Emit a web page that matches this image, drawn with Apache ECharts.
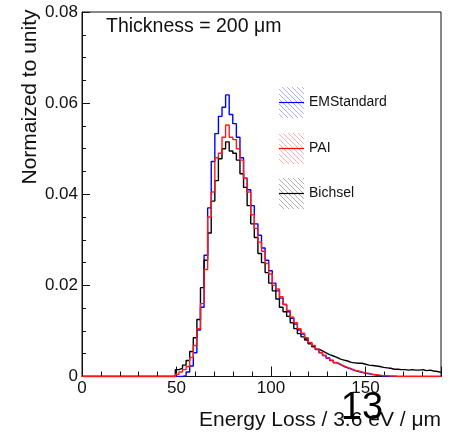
<!DOCTYPE html>
<html><head><meta charset="utf-8">
<script src="https://cdn.jsdelivr.net/npm/echarts@6/dist/echarts.min.js"></script>
<style>html,body{margin:0;padding:0;background:#fff}#c{width:450px;height:432px}</style>
</head><body><div id="c"></div>
<script>
// Histogram: 100 bins of width 1.9 from 0 to 190 (Energy Loss / 3.6 eV / um)
const binWidth = 1.9;
const xTickLabels = [0, 50, 100, 150];
const yTickLabels = [0, 0.02, 0.04, 0.06, 0.08];
const seriesNames = ['EMStandard', 'PAI', 'Bichsel'];

const emStandard = [
 0,0,0,0,0,0,0,0,0,0, 0,0,0,0,0,0,0,0,0,0, 0,0,0,0,0,0,0,0,
 0.0002,0.001,0.0023,0.0052,0.0102,0.0152,0.0266,0.037,0.0472,0.0533,
 0.0571,0.0591,0.0618,0.0575,0.0555,0.0525,0.048,0.0435,0.041,0.0375,
 0.0335,0.031,0.0282,0.0255,0.0232,0.0205,0.0188,0.0172,0.0158,0.0142,
 0.0128,0.0115,0.0102,0.0093,0.0083,0.0074,0.0066,0.0059,0.0052,0.0046,
 0.004,0.0035,0.003,0.0026,0.0022,0.0019,0.0016,0.0013,0.0011,0.0009,
 0.0007,0.0006,0.0004,0.0003,0.0002,0.0001,
 0,0,0,0,0,0,0,0,0,0,0,0,0,0,0,0
];
const pai = [
 0,0,0,0,0,0,0,0,0,0, 0,0,0,0,0,0,0,0,0,0, 0,0,0,0,0,0,
 0.0005,0.001,0.0015,0.0022,0.0042,0.0068,0.0105,0.016,0.0235,0.035,
 0.0405,0.048,0.049,0.0525,0.0552,0.0525,0.052,0.05,0.0475,0.0435,
 0.0405,0.0355,0.0325,0.0295,0.0275,0.0248,0.0225,0.02,0.0192,0.0175,
 0.0158,0.0145,0.013,0.0118,0.0105,0.0095,0.0085,0.0075,0.0068,0.006,
 0.0053,0.0046,0.0041,0.0036,0.0031,0.0027,0.0023,0.002,0.0017,0.0014,
 0.0012,0.001,0.0008,0.0007,0.0005,0.0004,0.0003,0.0002,0.0002,0.0001,0.0001,
 0,0,0,0,0,0,0,0,0,0,0,0,0
];
const bichsel = [
 0,0,0,0,0,0,0,0,0,0, 0,0,0,0,0,0,0,0,0,0, 0,0,0,0,0,0,
 0.0015,0.0018,0.0025,0.0035,0.0055,0.0085,0.0125,0.0195,0.0255,0.0315,
 0.0385,0.043,0.0478,0.05,0.0515,0.0495,0.049,0.0475,0.0445,0.0415,
 0.0375,0.0335,0.0305,0.027,0.025,0.0228,0.0205,0.0188,0.017,0.0152,
 0.0142,0.0132,0.0118,0.0105,0.0094,0.0087,0.008,0.0072,0.0066,0.006,
 0.0056,0.0052,0.0048,0.0045,0.0042,0.0038,0.0036,0.0034,0.0031,0.003,
 0.0029,0.0029,0.0027,0.0025,0.0024,0.0023,0.0022,0.002,0.0019,0.0018,
 0.0016,0.0016,0.0015,0.0015,0.0014,0.0015,0.0014,0.0014,0.0015,0.0013,
 0.0014,0.0012,0.0011,0.0009
];

function toSteps(vals) {
  const d = vals.map((v, i) => [i * binWidth, v]);
  d.push([vals.length * binWidth, vals[vals.length - 1]]);
  return d;
}

function hatch(color) {
  const c = document.createElement('canvas');
  c.width = 5; c.height = 5;
  const g = c.getContext('2d');
  g.strokeStyle = color; g.lineWidth = 1;
  g.beginPath(); g.moveTo(-1, -1); g.lineTo(6, 6); g.stroke();
  g.beginPath(); g.moveTo(-1, 4); g.lineTo(1, 6); g.stroke();
  g.beginPath(); g.moveTo(4, -1); g.lineTo(6, 1); g.stroke();
  return { image: c, repeat: 'repeat' };
}

const FONT = '"Liberation Sans", Arial, Helvetica, sans-serif';
const chart = echarts.init(document.getElementById('c'), null, { renderer: 'canvas' });

const legendItems = [
  { name: seriesNames[0], y: 87, color: '#0000ff', hatchColor: 'rgba(110,110,255,0.55)' },
  { name: seriesNames[1], y: 133, color: '#ff0000', hatchColor: 'rgba(255,110,110,0.55)' },
  { name: seriesNames[2], y: 178, color: '#000000', hatchColor: 'rgba(110,110,110,0.55)' }
];
const legendGraphics = [];
legendItems.forEach(it => {
  legendGraphics.push({ type: 'rect', shape: { x: 279, y: it.y, width: 25, height: 31 },
    style: { fill: hatch(it.hatchColor) }, silent: true });
  legendGraphics.push({ type: 'line', shape: { x1: 279, y1: it.y + 15.5, x2: 304, y2: it.y + 15.5 },
    style: { stroke: it.color, lineWidth: 1.2 }, silent: true });
  legendGraphics.push({ type: 'text', x: 309, y: it.y + 15.5,
    style: { text: it.name, font: '14px ' + FONT, fill: '#111', textVerticalAlign: 'middle' }, silent: true });
});

const option = {
  backgroundColor: '#fff',
  animation: false,
  grid: { left: 82, right: 9, top: 12, bottom: 55.5, show: true, borderColor: '#111', borderWidth: 1, backgroundColor: 'transparent' },
  xAxis: [{
    type: 'value', min: 0, max: 190, interval: 50,
    axisLine: { show: true, lineStyle: { color: '#111', width: 1 } },
    axisTick: { show: true, inside: true, length: 10, lineStyle: { color: '#111' } },
    axisLabel: { show: true, margin: 3, fontSize: 17, fontFamily: FONT, color: '#111',
      formatter: v => (xTickLabels.indexOf(v) >= 0 ? String(v) : '') },
    splitLine: { show: false }
  }, {
    type: 'value', min: 0, max: 190, interval: 10, position: 'bottom',
    axisLine: { show: false },
    axisTick: { show: true, inside: true, length: 5, lineStyle: { color: '#111' } },
    axisLabel: { show: false },
    splitLine: { show: false }
  }],
  yAxis: {
    type: 'value', min: 0, max: 0.08, interval: 0.02,
    axisLine: { show: true, lineStyle: { color: '#111', width: 1 } },
    axisTick: { show: true, inside: true, length: 8, lineStyle: { color: '#111' } },
    minorTick: { show: true, splitNumber: 4, length: 4, lineStyle: { color: '#111' } },
    axisLabel: { margin: 4, fontSize: 17, fontFamily: FONT, color: '#111',
      formatter: v => {
        const m = yTickLabels.find(t => Math.abs(t - v) < 1e-9);
        return m === undefined ? '' : (m === 0 ? '0' : m.toFixed(2));
      } },
    splitLine: { show: false }
  },
  series: [
    { name: seriesNames[0], type: 'line', step: 'end', data: toSteps(emStandard), showSymbol: false, symbol: 'none',
      lineStyle: { color: '#0000ff', width: 1.4 }, z: 2 },
    { name: seriesNames[2], type: 'line', step: 'end', data: toSteps(bichsel), showSymbol: false, symbol: 'none',
      lineStyle: { color: '#000000', width: 1.4 }, z: 3 },
    { name: seriesNames[1], type: 'line', step: 'end', data: toSteps(pai), showSymbol: false, symbol: 'none',
      lineStyle: { color: '#ff1a1a', width: 1.4 }, z: 4 }
  ],
  graphic: [
    { type: 'text', x: 106, y: 27, style: { text: 'Thickness = 200 \u03bcm', font: '19.5px ' + FONT, fill: '#111', textVerticalAlign: 'middle' }, silent: true },
    { type: 'text', x: 30, y: 97, rotation: Math.PI / 2,
      style: { text: 'Normaized to unity', font: '21px ' + FONT, fill: '#111', textAlign: 'center', textVerticalAlign: 'middle' }, silent: true },
    { type: 'text', x: 441, y: 420, style: { text: 'Energy Loss / 3.6 eV / \u03bcm', font: '21px ' + FONT, fill: '#111', textAlign: 'right', textVerticalAlign: 'middle' }, silent: true },
    { type: 'text', x: 362, y: 409, z: 100, style: { text: '13', font: '38px ' + FONT, fill: '#000', textAlign: 'center', textVerticalAlign: 'middle' }, silent: true }
  ].concat(legendGraphics)
};
chart.setOption(option);
</script>
</body></html>
